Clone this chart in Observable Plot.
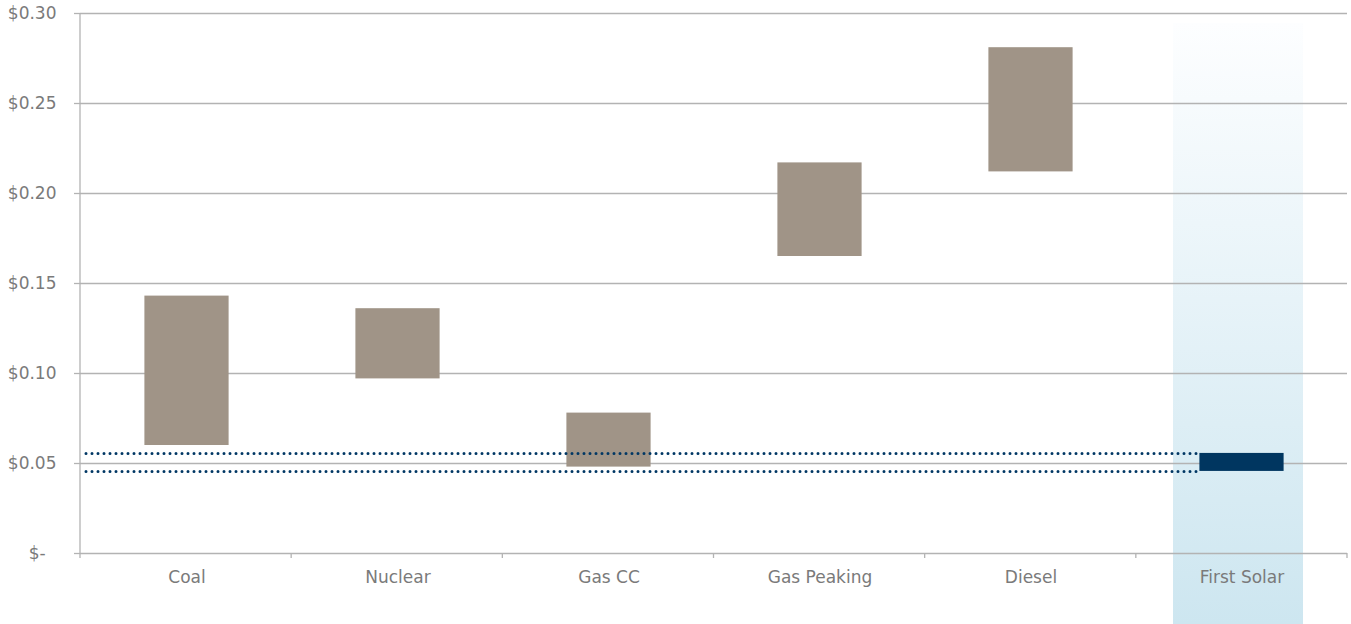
<!DOCTYPE html>
<html>
<head>
<meta charset="utf-8">
<script src="https://cdn.jsdelivr.net/npm/d3@7"></script>
<script src="https://cdn.jsdelivr.net/npm/@observablehq/plot@0.6"></script>
<style>
  html, body { margin: 0; padding: 0; background: #fff; }
  #chart { width: 1351px; height: 624px; }
</style>
</head>
<body>
<div id="chart"></div>
<script>
const categories = ["Coal", "Nuclear", "Gas CC", "Gas Peaking", "Diesel", "First Solar"];
const lowValues  = [0.060, 0.097, 0.048, 0.165, 0.212, 0.0456];
const highValues = [0.143, 0.136, 0.078, 0.217, 0.281, 0.0556];
const yTicks = [0, 0.05, 0.10, 0.15, 0.20, 0.25, 0.30];
const highlightCategory = "First Solar";

const rows = categories.map((c, i) => ({category: c, low: lowValues[i], high: highValues[i]}));
const others = rows.filter(d => d.category !== highlightCategory);
const solar = rows.filter(d => d.category === highlightCategory);

const W = 1351, H = 624, ML = 80, MR = 4, MT = 13, MB = 71;
const gridColor = "#b3b3b3";
const textColor = "#7a7a7a";
const font = "'DejaVu Sans', 'Liberation Sans', Arial, sans-serif";

const fmt = v => v === 0 ? "$-\u00a0\u00a0" : "$" + v.toFixed(2);

// boundary ticks and left axis line
function frameTicks(index, scales, values, dimensions) {
  const {width, marginLeft, marginRight} = dimensions;
  const bw = (width - marginLeft - marginRight) / categories.length;
  const y0 = scales.y(0);
  const g = d3.create("svg:g").attr("stroke", gridColor).attr("stroke-width", 1.3);
  for (let i = 0; i <= categories.length; i++) {
    const x = marginLeft + i * bw;
    g.append("line").attr("x1", x).attr("x2", x).attr("y1", y0).attr("y2", y0 + 5);
  }
  g.append("line").attr("x1", marginLeft).attr("x2", marginLeft)
    .attr("y1", scales.y(yTicks[yTicks.length - 1])).attr("y2", y0);
  return g.node();
}

const chart = Plot.plot({
  width: W, height: H,
  marginLeft: ML, marginRight: MR, marginTop: MT, marginBottom: MB,
  style: {fontFamily: font, background: "#fff"},
  x: {domain: categories, padding: 0, axis: null},
  y: {domain: [0, 0.30], axis: null},
  marks: [
    Plot.barY([highlightCategory], {
      x: d => d, y1: yTicks[yTicks.length - 1], y2: 0,
      insetLeft: 37, insetRight: 44, insetTop: 10, insetBottom: -71,
      fill: "url(#solarGrad)"
    }),
    Plot.gridY(yTicks, {stroke: gridColor, strokeOpacity: 1, strokeWidth: 1.3}),
    Plot.axisY({
      ticks: yTicks, tickFormat: fmt, tickSize: 6, tickPadding: 18,
      stroke: gridColor, strokeWidth: 1.3, fill: textColor, fontSize: 17, label: null
    }),
    Plot.barY(others, {
      x: "category", y1: "low", y2: "high",
      insetLeft: 63.4, insetRight: 63.4, fill: "#a09487"
    }),
    Plot.ruleY([solar[0].high, solar[0].low], {
      stroke: "#003764", strokeWidth: 3, strokeDasharray: "0 6", strokeLinecap: "round",
      insetLeft: 6, insetRight: 147
    }),
    Plot.barY(solar, {
      x: "category", y1: "low", y2: "high",
      insetLeft: 63.4, insetRight: 63.4, fill: "#003660"
    }),
    Plot.axisX({
      tickSize: 0, tickPadding: 17, fill: textColor, fontSize: 17, label: null
    }),
    frameTicks
  ]
});

const svg = d3.select(chart);
const defs = svg.insert("defs", ":first-child");
const grad = defs.append("linearGradient").attr("id", "solarGrad")
  .attr("x1", 0).attr("y1", 0).attr("x2", 0).attr("y2", 1);
grad.append("stop").attr("offset", "0%").attr("stop-color", "#fdfeff");
grad.append("stop").attr("offset", "100%").attr("stop-color", "#cde6f0");

document.getElementById("chart").appendChild(chart);
</script>
</body>
</html>
